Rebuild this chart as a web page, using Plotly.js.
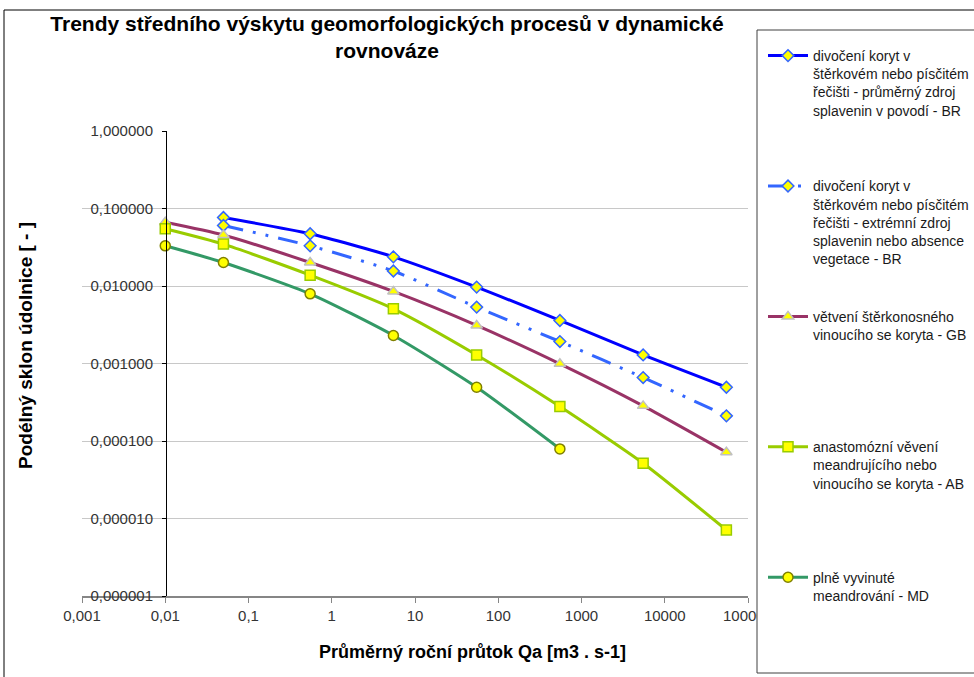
<!DOCTYPE html>
<html><head><meta charset="utf-8">
<script src="https://cdn.plot.ly/plotly-3.0.1.min.js"></script>
<style>html,body{margin:0;padding:0;background:#fff;} #chart{width:974px;height:677px;}</style>
</head><body><div id="chart"></div>
<script>
// ---- data ----
const discharge = [0.01, 0.05, 0.55, 5.5, 55, 550, 5500, 55000];
const brMean    = [null, 0.0766, 0.0472, 0.0238, 0.00968, 0.00359, 0.00129, 0.000494];
const brExtreme = [null, 0.0604, 0.0330, 0.0156, 0.00534, 0.00192, 0.000659, 0.000211];
const gb        = [0.0664, 0.0455, 0.0201, 0.0085, 0.0031, 0.00099, 0.000284, 0.0000716];
const ab        = [0.0548, 0.0347, 0.0138, 0.00508, 0.00129, 0.000278, 0.0000517, 0.0000071];
const md        = [0.0330, 0.0201, 0.00792, 0.0023, 0.000494, 0.0000791, null, null];

const seriesNames = [
  "divočení koryt v<br>štěrkovém nebo písčitém<br>řečišti - průměrný zdroj<br>splavenin v povodí - BR",
  "divočení koryt v<br>štěrkovém nebo písčitém<br>řečišti - extrémní zdroj<br>splavenin nebo absence<br>vegetace - BR",
  "větvení štěrkonosného<br>vinoucího se koryta - GB",
  "anastomózní věvení<br>meandrujícího nebo<br>vinoucího se koryta - AB",
  "plně vyvinuté<br>meandrování - MD"
];

const chartTitle = "Trendy středního výskytu geomorfologických procesů v dynamické<br>rovnováze";
const xTitle = "Průměrný roční průtok Qa [m3 . s-1]";
const yTitle = "Podélný sklon údolnice [ - ]";

const xTickVals = [0.001, 0.01, 0.1, 1, 10, 100, 1000, 10000, 100000];
const xTickText = ["0,001", "0,01", "0,1", "1", "10", "100", "1000", "10000", "100000"];
const yTickVals = [1, 0.1, 0.01, 0.001, 0.0001, 0.00001, 0.000001];
const yTickText = ["1,000000", "0,100000", "0,010000", "0,001000", "0,000100", "0,000010", "0,000001"];

// ---- helpers ----
function pick(ys) {
  const x = [], y = [];
  ys.forEach((v, i) => { if (v !== null) { x.push(discharge[i]); y.push(v); } });
  return {x, y};
}
function pad(name, last) {
  if (last) return name;
  const n = name.split("<br>").length;
  let s = name;
  for (let i = n; i < 7; i++) s += "<br> ";
  return s;
}
// pixel -> paper helpers (plot area 82..748 x, 131..596 y)
const PX = p => (p - 82) / 666;
const PY = p => (596 - p) / 465;

const styles = [
  {line: {color: "#0000FF", width: 3}, marker: {symbol: "diamond", size: 9, color: "#FFFF00", line: {color: "#3366FF", width: 1.5}}},
  {line: {color: "#3366FF", width: 3, dash: "20px,10px,3px,10px,3px,10px"}, marker: {symbol: "diamond", size: 9, color: "#FFFF00", line: {color: "#3366FF", width: 1.5}}},
  {line: {color: "#993366", width: 3}, marker: {symbol: "triangle-up", size: 10, color: "#FFFF00", line: {color: "#C0C0C0", width: 1.5}}},
  {line: {color: "#99CC00", width: 3}, marker: {symbol: "square", size: 10, color: "#FFFF00", line: {color: "#99CC00", width: 1.5}}},
  {line: {color: "#339966", width: 3}, marker: {symbol: "circle", size: 10, color: "#FFFF00", line: {color: "#808000", width: 1.5}}}
];
const allSeries = [brMean, brExtreme, gb, ab, md];

const traces = allSeries.map((ys, i) => {
  const d = pick(ys);
  return {
    type: "scatter", mode: "lines+markers",
    x: d.x, y: d.y,
    name: pad(seriesNames[i], i === allSeries.length - 1),
    line: Object.assign({shape: "spline", smoothing: 0.6}, styles[i].line),
    marker: styles[i].marker
  };
});

const tickFont = {family: "Liberation Sans, Arial, sans-serif", size: 15, color: "#333333"};

const layout = {
  width: 974, height: 677,
  margin: {l: 82, r: 226, t: 131, b: 81, autoexpand: false},
  paper_bgcolor: "#ffffff", plot_bgcolor: "rgba(0,0,0,0)",
  showlegend: true,
  title: {
    text: "<b>" + chartTitle + "</b>",
    font: {family: "Liberation Sans Narrow, Arial Narrow, Liberation Sans, Arial", size: 21, color: "#000"},
    x: 387 / 974, xref: "container", xanchor: "center",
    y: 1 - 31 / 677, yref: "container", yanchor: "top"
  },
  xaxis: {
    type: "log", range: [-3, 5],
    tickmode: "array", tickvals: xTickVals, ticktext: xTickText,
    showgrid: false, zeroline: false,
    showline: true, linecolor: "#868686", linewidth: 2,
    ticks: "outside", ticklen: 5, tickcolor: "#868686", tickwidth: 1,
    tickfont: tickFont
  },
  yaxis: {
    type: "log", range: [-6, 0],
    anchor: "free", position: PX(166),
    tickmode: "array", tickvals: yTickVals, ticktext: yTickText,
    showgrid: true, gridcolor: "#C8C8C8", gridwidth: 1, zeroline: false,
    showline: true, linecolor: "#000000", linewidth: 1,
    ticks: "outside", ticklen: 4, tickcolor: "#000000",
    ticklabelstandoff: 6,
    tickfont: tickFont
  },
  legend: {
    x: PX(763), xanchor: "left",
    y: PY(40), yanchor: "top",
    bgcolor: "rgba(0,0,0,0)", borderwidth: 0,
    valign: "top", maxheight: 1,
    font: {family: "Liberation Sans, Arial, sans-serif", size: 14, color: "#1a1a1a"},
    itemwidth: 40, tracegroupgap: 0
  },
  annotations: [
    {text: "<b>" + xTitle + "</b>", xref: "paper", yref: "paper", x: PX(472), y: PY(652),
     xanchor: "center", yanchor: "middle", showarrow: false,
     font: {family: "Liberation Sans Narrow, Arial Narrow, Liberation Sans, Arial", size: 18, color: "#000"}},
    {text: "<b>" + yTitle + "</b>", xref: "paper", yref: "paper", x: PX(25), y: PY(346),
     xanchor: "center", yanchor: "middle", showarrow: false, textangle: -90,
     font: {family: "Liberation Sans, Arial, sans-serif", size: 19, color: "#000"}}
  ],
  shapes: [
    {type: "rect", xref: "paper", yref: "paper", x0: PX(4), x1: PX(990), y0: PY(700), y1: PY(10),
     line: {color: "#000", width: 1}, fillcolor: "rgba(0,0,0,0)", layer: "below"},
    {type: "line", xref: "paper", yref: "paper", x0: PX(167), x1: 1, y0: 1, y1: 1,
     line: {color: "#fff", width: 2}, layer: "above"},
    {type: "rect", xref: "paper", yref: "paper", x0: PX(757), x1: PX(990), y0: PY(673), y1: PY(30),
     line: {color: "#404040", width: 1}, fillcolor: "#ffffff", layer: "above"}
  ]
};

Plotly.newPlot("chart", traces, layout, {displayModeBar: false, staticPlot: true});
</script></body></html>
